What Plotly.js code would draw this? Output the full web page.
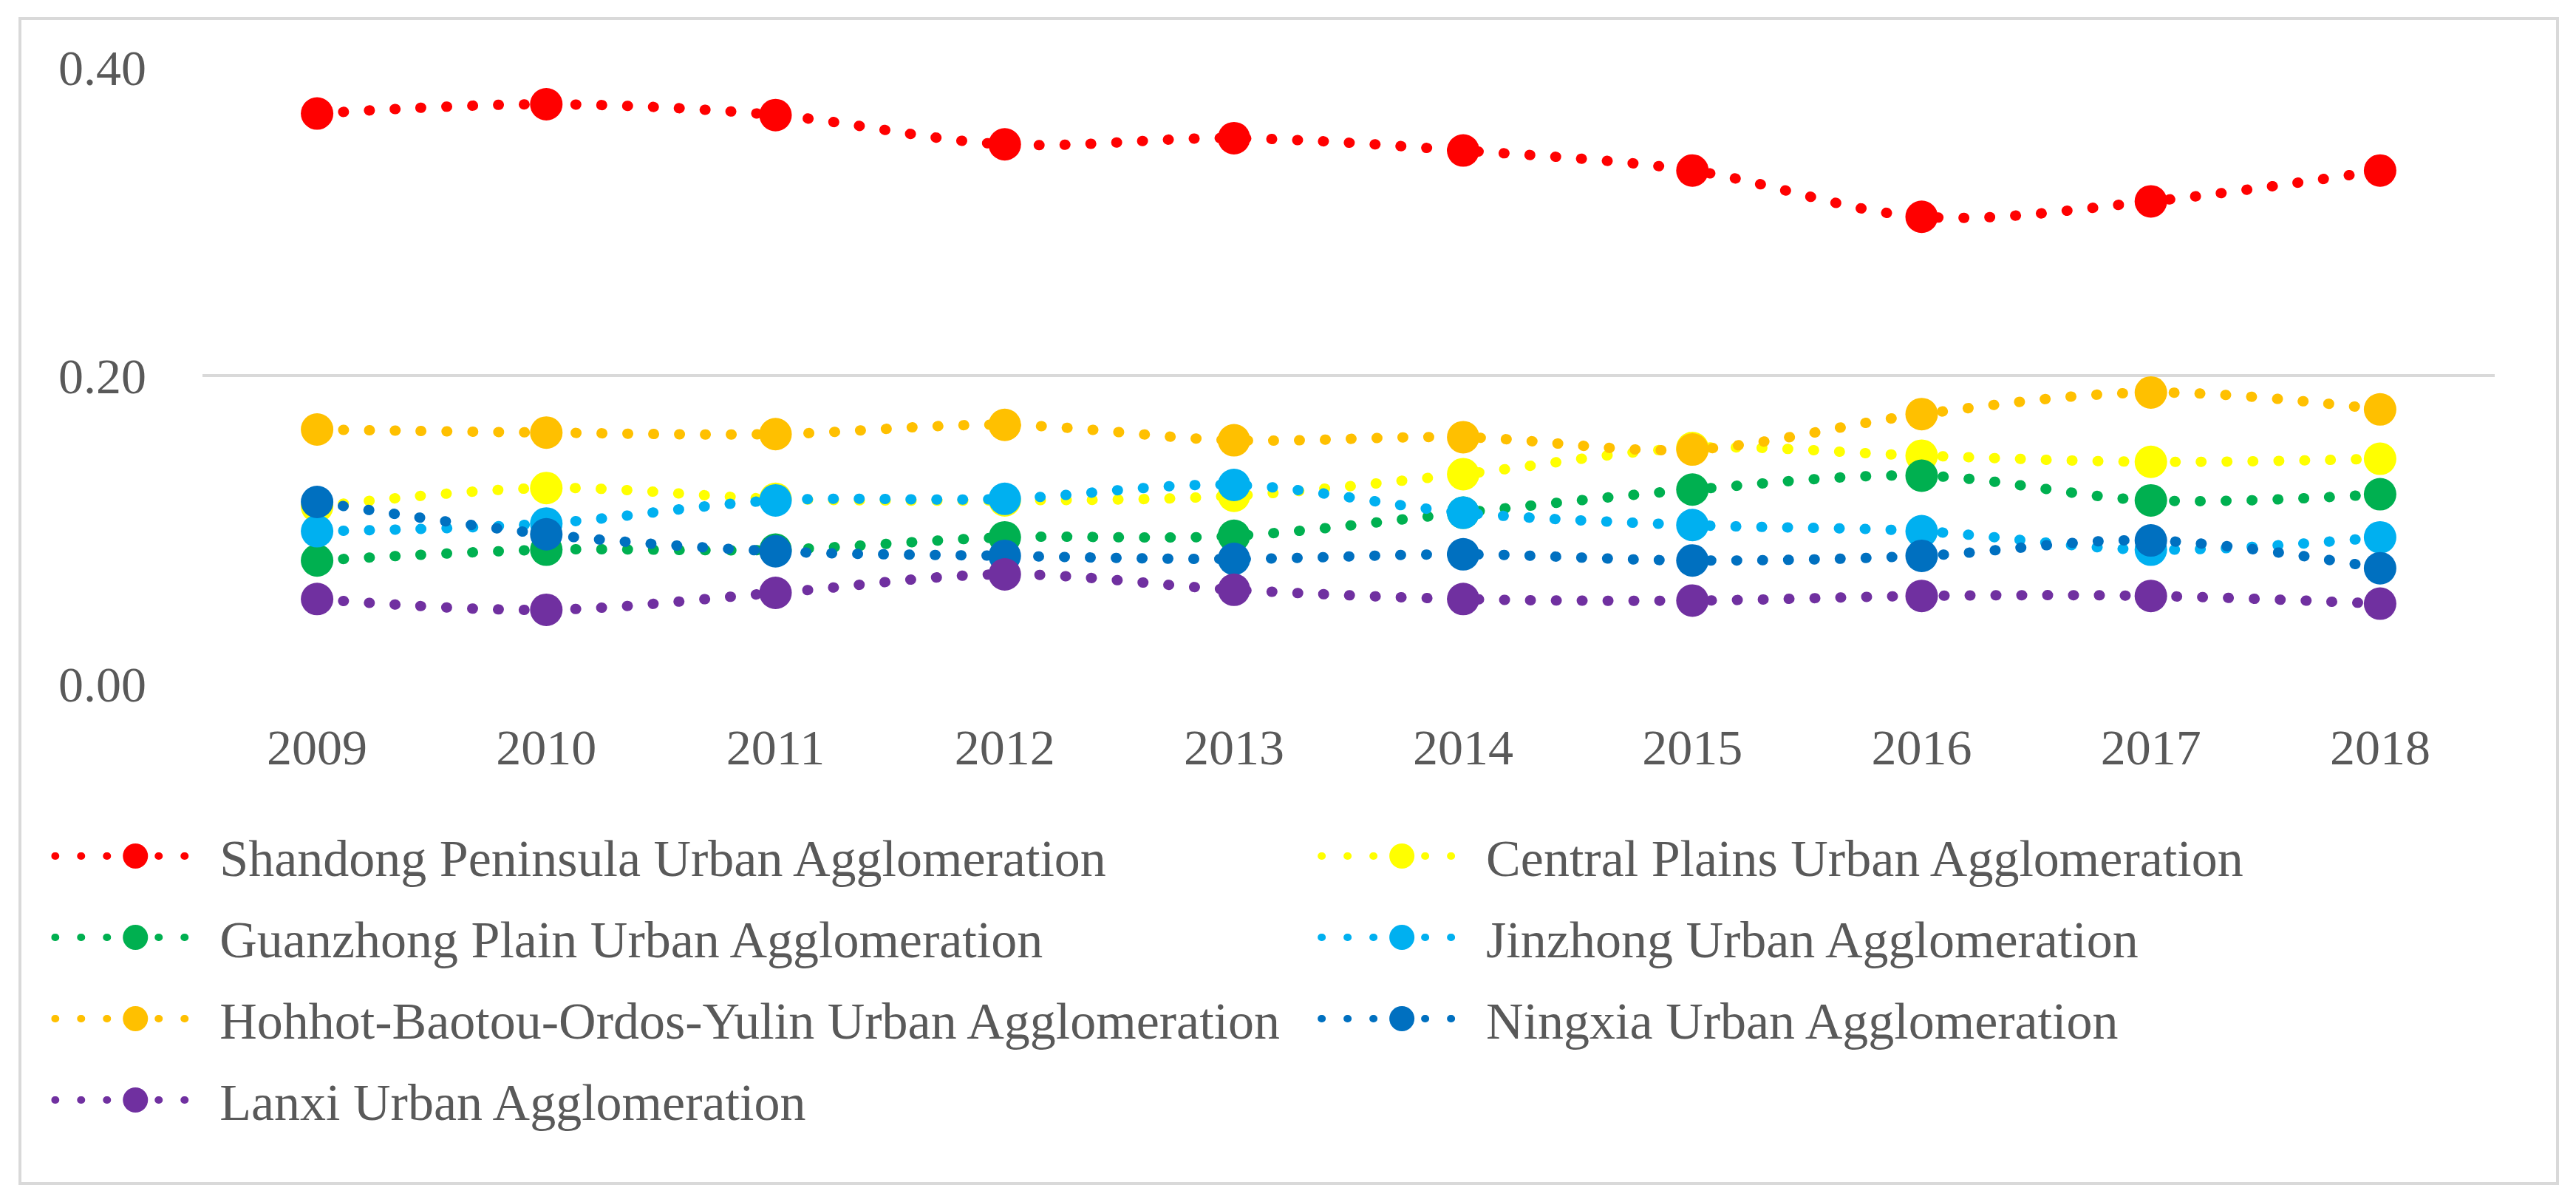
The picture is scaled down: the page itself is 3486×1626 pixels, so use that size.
<!DOCTYPE html>
<html>
<head>
<meta charset="utf-8">
<script src="https://cdn.plot.ly/plotly-3.0.1.min.js"></script>
<style>
  html, body { margin: 0; padding: 0; background: #ffffff; }
  #wrap { position: relative; width: 3486px; height: 1626px; }
  #chart { position: absolute; left: 0; top: 0; width: 3486px; height: 1626px; }
  #frame { position: absolute; left: 25px; top: 23px; width: 3430px; height: 1572px;
           border: 4px solid #D9D9D9; pointer-events: none; }
  .js-line, .legendlines path { stroke-linecap: round !important; }
</style>
</head>
<body>
<div id="wrap">
  <div id="chart"></div>
  <div id="frame"></div>
</div>
<script>
const years = ["2009","2010","2011","2012","2013","2014","2015","2016","2017","2018"];

const seriesNames = [
  "Shandong Peninsula Urban Agglomeration",
  "Central Plains Urban Agglomeration",
  "Guanzhong Plain Urban Agglomeration",
  "Jinzhong Urban Agglomeration",
  "Hohhot-Baotou-Ordos-Yulin Urban Agglomeration",
  "Ningxia Urban Agglomeration",
  "Lanxi Urban Agglomeration"
];

const shandong = [0.370, 0.376, 0.369, 0.350, 0.354, 0.346, 0.333, 0.303, 0.313, 0.333];
const centralPlains = [0.115, 0.127, 0.120, 0.119, 0.122, 0.136, 0.153, 0.148, 0.144, 0.146];
const guanzhong = [0.080, 0.087, 0.087, 0.095, 0.096, 0.111, 0.126, 0.135, 0.119, 0.123];
const jinzhong = [0.099, 0.104, 0.119, 0.120, 0.129, 0.111, 0.103, 0.099, 0.087, 0.095];
const hohhot = [0.165, 0.163, 0.162, 0.168, 0.158, 0.160, 0.152, 0.175, 0.189, 0.178];
const ningxia = [0.118, 0.097, 0.086, 0.083, 0.081, 0.084, 0.080, 0.083, 0.093, 0.075];
const lanxi = [0.055, 0.048, 0.059, 0.071, 0.061, 0.055, 0.054, 0.057, 0.057, 0.052];

const seriesValues = [shandong, centralPlains, guanzhong, jinzhong, hohhot, ningxia, lanxi];
const seriesColors = ["#FF0000", "#FFFF00", "#00B050", "#00B0F0", "#FFC000", "#0070C0", "#7030A0"];
// legend column: left column = legend, right column = legend2
const legendColumn = ["legend", "legend2", "legend", "legend2", "legend", "legend2", "legend"];

const FONT = "'Liberation Serif', 'Times New Roman', serif";
const TEXT_COLOR = "#595959";

const traces = seriesNames.map((name, i) => ({
  type: "scatter",
  mode: "lines+markers",
  name: name,
  x: years,
  y: seriesValues[i],
  legend: legendColumn[i],
  legendgroup: "g" + i,
  line: { color: seriesColors[i], width: 14, dash: "1px,34px", shape: "spline", smoothing: 1 },
  marker: { color: seriesColors[i], size: 44, symbol: "circle", line: { width: 0 } },
  hoverinfo: "x+y+name"
}));

const legendBase = {
  orientation: "v",
  xanchor: "left",
  yanchor: "top",
  y: -0.217,
  itemwidth: 218,
  tracegroupgap: 16,
  font: { family: FONT, size: 70, color: TEXT_COLOR },
  bgcolor: "rgba(0,0,0,0)",
  borderwidth: 0
};

const layout = {
  width: 3486,
  height: 1626,
  paper_bgcolor: "#ffffff",
  plot_bgcolor: "#ffffff",
  margin: { l: 274, r: 110, t: 91, b: 701, pad: 0 },
  font: { family: FONT, size: 68, color: TEXT_COLOR },
  showlegend: true,
  xaxis: {
    type: "category",
    range: [-0.5, years.length - 0.5],
    autorange: false,
    showgrid: false,
    zeroline: false,
    showline: false,
    ticks: "",
    tickfont: { family: FONT, size: 68, color: TEXT_COLOR },
    ticklabelstandoff: 40,
    fixedrange: true
  },
  yaxis: {
    range: [0, 0.4],
    autorange: false,
    dtick: 0.2,
    tick0: 0,
    tickformat: ".2f",
    showgrid: true,
    gridcolor: "#D9D9D9",
    gridwidth: 4,
    zeroline: false,
    showline: false,
    ticks: "",
    tickfont: { family: FONT, size: 68, color: TEXT_COLOR },
    ticklabelstandoff: 75,
    fixedrange: true
  },
  legend: Object.assign({}, legendBase, { x: -0.066 }),
  legend2: Object.assign({}, legendBase, { x: 0.4865 })
};

function styleLegendSymbols() {
  const r = 17;
  const d = "M" + r + ",0A" + r + "," + r + " 0 1,1 0,-" + r + "A" + r + "," + r + " 0 0,1 " + r + ",0Z";
  document.querySelectorAll(".legendpoints path.scatterpts").forEach(p => p.setAttribute("d", d));
  // shorten the legend line sample so it ends before the text, as in the reference
  document.querySelectorAll(".legendlines path").forEach(p => p.setAttribute("d", "M5,0h195"));
}

Plotly.newPlot("chart", traces, layout, { displayModeBar: false, staticPlot: true })
  .then(styleLegendSymbols);
</script>
</body>
</html>
